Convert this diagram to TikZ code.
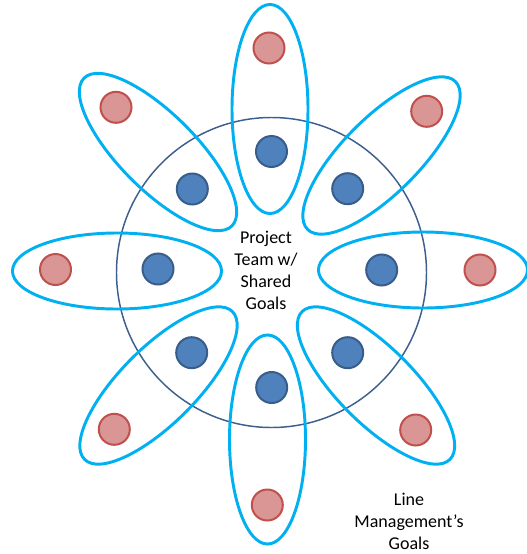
\documentclass[tikz,border=0pt]{standalone}
\usepackage{fontspec}
\setmainfont{Carlito}
\definecolor{petalcyan}{HTML}{00B0F0}
\definecolor{ringblue}{HTML}{3C5F8E}
\definecolor{teamfill}{HTML}{4F81BD}
\definecolor{teamline}{HTML}{385D8A}
\definecolor{linefill}{HTML}{D99694}
\definecolor{lineline}{HTML}{C0504D}

\begin{document}
\begin{tikzpicture}[x=0.75pt, y=-0.75pt,
        petal/.style={draw=petalcyan, line width=2.2pt},
        member/.style={circle, inner sep=0pt, minimum size=23.25pt, line width=1.5pt},
        teamdot/.style={member, fill=teamfill, draw=teamline},
        linedot/.style={member, fill=linefill, draw=lineline},
        lbl/.style={font=\fontsize{13.5}{16.5}\selectfont, align=center}]
      \useasboundingbox (0,0) rectangle (526,554);

      % shared team ring
      \draw[draw=ringblue, line width=1.1pt] (271.5,272.5) circle [radius=116.25pt];

      % one petal per member: team goal inside, line goal outside
      \foreach \cx/\cy/\ang in {270/109/90, 117/271/0, 423/270/0, 267.5/439.5/90,
                                158/152/-45, 381.5/155.5/45, 158.5/385.5/45, 376/385.5/-45}
        \draw[petal, rotate around={\ang:(\cx,\cy)}]
          (\cx,\cy) ellipse [x radius=78.4pt, y radius=28.5pt];

      % team goals
      \node[teamdot] (topBlue)   at (271.5,151.5) {};
      \node[teamdot] (ulBlue)    at (192.3,189)   {};
      \node[teamdot] (urBlue)    at (347.7,188.7) {};
      \node[teamdot] (leftBlue)  at (158,269)     {};
      \node[teamdot] (rightBlue) at (381.7,270)   {};
      \node[teamdot] (llBlue)    at (191.7,352.7) {};
      \node[teamdot] (lrBlue)    at (347.7,352.7) {};
      \node[teamdot] (botBlue)   at (271.7,387.5) {};

      % line management goals
      \node[linedot] (topRed)   at (269,48)      {};
      \node[linedot] (ulRed)    at (116,107.3)   {};
      \node[linedot] (urRed)    at (426.7,111.3) {};
      \node[linedot] (leftRed)  at (55.5,269.5)  {};
      \node[linedot] (rightRed) at (480,270)     {};
      \node[linedot] (llRed)    at (114.3,429.3) {};
      \node[linedot] (lrRed)    at (415.7,430)   {};
      \node[linedot] (botRed)   at (267.3,505)   {};

      \node[lbl] (teamText) at (266,270) {Project\\Team w/\\Shared\\Goals};
      \node[lbl] (lineText) at (409,521) {Line\\Management’s\\Goals};
    \end{tikzpicture}
\end{document}
